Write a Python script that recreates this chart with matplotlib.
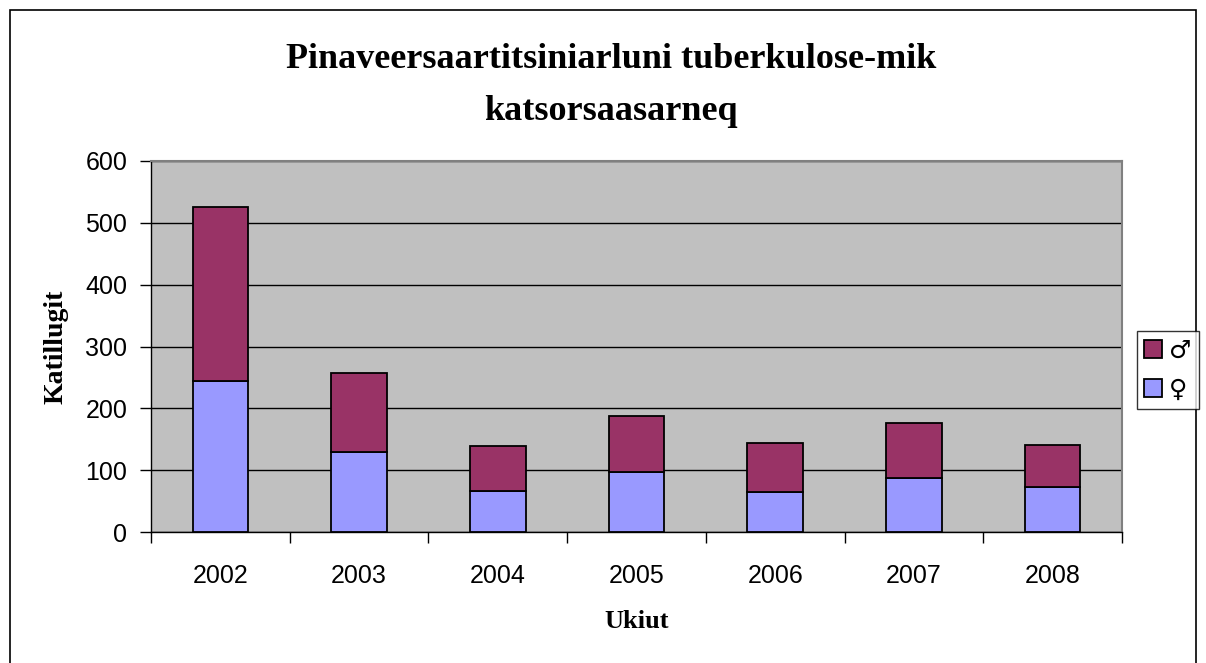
import numpy as np
import matplotlib.pyplot as plt
from matplotlib.patches import Rectangle

years = ['2002', '2003', '2004', '2005', '2006', '2007', '2008']
female = [245, 129, 67, 97, 65, 88, 73]
male = [281, 128, 72, 91, 79, 88, 68]

W, H = 1206, 663
fig = plt.figure(figsize=(W / 100, H / 100), dpi=100)
fig.patch.set_facecolor('white')

# outer chart border
fig.patches.append(Rectangle((10 / W, -0.01), 1186 / W, 1 - 10 / H + 0.01,
                             transform=fig.transFigure, fill=False,
                             edgecolor='black', linewidth=1.2))

ax = fig.add_axes([151 / W, 1 - 532 / H, (1122 - 151) / W, (532 - 161) / H])
ax.set_facecolor('#c0c0c0')

x = np.arange(len(years))
b1 = ax.bar(x, female, width=0.4, color='#9999ff', edgecolor='black',
            linewidth=1.3, label='♀', zorder=3)
b2 = ax.bar(x, male, width=0.4, bottom=female, color='#993366',
            edgecolor='black', linewidth=1.3, label='♂', zorder=3)

ax.set_xlim(-0.5, len(years) - 0.5)
ax.set_ylim(0, 600)
ax.set_yticks(range(0, 601, 100))
ax.yaxis.grid(True, color='black', linewidth=1.0, zorder=1)
ax.set_axisbelow(True)

ax.set_xticks(np.arange(-0.5, len(years), 1.0))
ax.set_xticklabels([])
ax.set_xticks(x, minor=True)
ax.set_xticklabels(years, minor=True)
ax.tick_params(axis='x', which='major', direction='out', length=8,
               width=1, color='black')
ax.tick_params(axis='x', which='minor', length=0, pad=23)
ax.tick_params(axis='y', direction='out', length=8, width=1, pad=9)
for lab in ax.get_yticklabels() + ax.get_xticklabels(minor=True):
    lab.set_fontfamily('Liberation Sans')
    lab.set_fontsize(18)

for side in ['left', 'bottom']:
    ax.spines[side].set_color('black')
    ax.spines[side].set_linewidth(1.0)
for side in ['top', 'right']:
    ax.spines[side].set_color('#808080')
    ax.spines[side].set_linewidth(1.5)

ax.set_xlabel('Ukiut', fontfamily='Liberation Serif', fontweight='bold',
              fontsize=19, labelpad=16)
ax.set_ylabel('Katillugit', fontfamily='Liberation Serif', fontweight='bold',
              fontsize=20, labelpad=12)

fig.text(611 / W, 1 - 60 / H, 'Pinaveersaartitsiniarluni tuberkulose-mik',
         ha='center', va='center', fontfamily='Liberation Serif',
         fontweight='bold', fontsize=26)
fig.text(611 / W, 1 - 112 / H, 'katsorsaasarneq',
         ha='center', va='center', fontfamily='Liberation Serif',
         fontweight='bold', fontsize=26)

leg = fig.legend(handles=[b2, b1], loc='center',
                 bbox_to_anchor=(1168 / W, 1 - 370 / H),
                 frameon=True, fancybox=False, edgecolor='black',
                 handlelength=0.7, handleheight=0.7, handletextpad=0.3,
                 borderpad=0.3, labelspacing=0.6, borderaxespad=0,
                 prop={'family': ['DejaVu Sans'], 'size': 18})
leg.get_frame().set_linewidth(1.0)

fig.savefig('out.png', dpi=100)
